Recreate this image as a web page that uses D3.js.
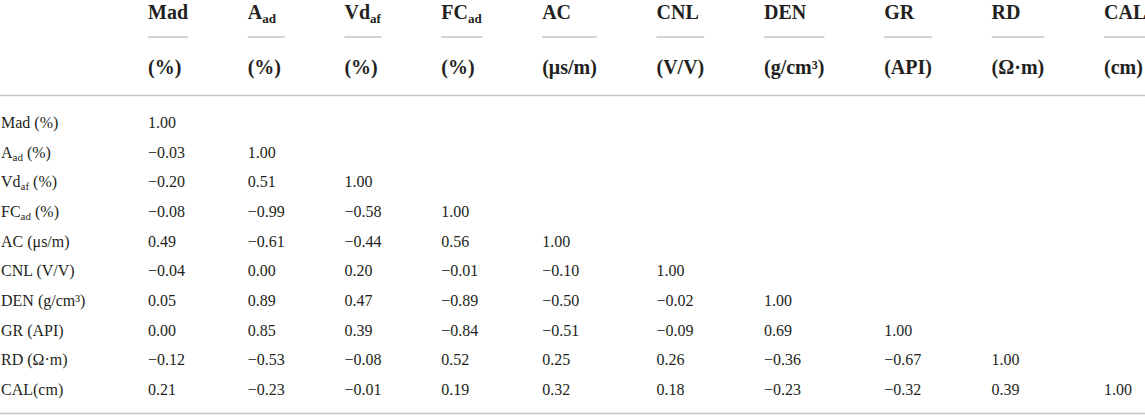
<!DOCTYPE html>
<html>
<head>
<meta charset="utf-8">
<script src="https://cdn.jsdelivr.net/npm/d3@7"></script>
<style>
  html, body { margin: 0; padding: 0; background: #fff; }
  svg { display: block; }
</style>
</head>
<body>
<svg id="chart" width="1145" height="415"></svg>
<script>
// ---- data ----
const varNames = ["Mad", "A", "Vd", "FC", "AC", "CNL", "DEN", "GR", "RD", "CAL"];
const varSubs  = ["",    "ad", "af", "ad", "",  "",    "",    "",   "",   ""];
const headerUnits = ["(%)", "(%)", "(%)", "(%)", "(μs/m)", "(V/V)", "(g/cm³)", "(API)", "(Ω·m)", "(cm)"];
const rowUnits    = [" (%)", " (%)", " (%)", " (%)", " (μs/m)", " (V/V)", " (g/cm³)", " (API)", " (Ω·m)", "(cm)"];
// lower-triangular correlation matrix (row i has i+1 values)
const corrMad  = [1.00];
const corrAad  = [-0.03, 1.00];
const corrVdaf = [-0.20, 0.51, 1.00];
const corrFCad = [-0.08, -0.99, -0.58, 1.00];
const corrAC   = [0.49, -0.61, -0.44, 0.56, 1.00];
const corrCNL  = [-0.04, 0.00, 0.20, -0.01, -0.10, 1.00];
const corrDEN  = [0.05, 0.89, 0.47, -0.89, -0.50, -0.02, 1.00];
const corrGR   = [0.00, 0.85, 0.39, -0.84, -0.51, -0.09, 0.69, 1.00];
const corrRD   = [-0.12, -0.53, -0.08, 0.52, 0.25, 0.26, -0.36, -0.67, 1.00];
const corrCAL  = [0.21, -0.23, -0.01, 0.19, 0.32, 0.18, -0.23, -0.32, 0.39, 1.00];
const corrRows = [corrMad, corrAad, corrVdaf, corrFCad, corrAC, corrCNL, corrDEN, corrGR, corrRD, corrCAL];

// ---- layout ----
const W = 1145, H = 415;
const FONT = "'Liberation Serif','Times New Roman',serif";
const TEXT = "#231f20";
const RULE = "#c4c4c4";
const firstColX = 148, lastColX = 1104;
const idx = d3.range(varNames.length);
const fmt = d3.format(".2f");

const svg = d3.select("#chart").attr("font-family", FONT).style("fill", TEXT);

// row positions
const y = d3.scalePoint().domain(idx).range([128, 395]);

// column groups (measured first, then positioned)
const cols = svg.selectAll("g.col").data(idx).join("g").attr("class", "col");

// header names (bold, with subscripts)
const hName = cols.append("text")
  .attr("y", 19)
  .attr("font-size", 20)
  .attr("font-weight", "bold");
hName.append("tspan").text(i => varNames[i]);
hName.filter(i => varSubs[i]).append("tspan")
  .attr("font-size", 13)
  .attr("dy", 4)
  .text(i => varSubs[i]);

// header units
cols.append("text")
  .attr("class", "unit")
  .attr("y", 74)
  .attr("font-size", 20)
  .attr("font-weight", "bold")
  .text(i => headerUnits[i]);

// values
cols.each(function(c) {
  const g = d3.select(this);
  const cells = corrRows.map((row, r) => ({ r, v: row[c] })).filter(d => d.v !== undefined);
  g.selectAll("text.val").data(cells).join("text")
    .attr("class", "val")
    .attr("y", d => y(d.r))
    .attr("font-size", 16)
    .text(d => fmt(d.v));
});

// measure column widths
const widths = [];
cols.each(function(c) {
  let w = 0;
  d3.select(this).selectAll("text").each(function() {
    w = Math.max(w, this.getComputedTextLength ? this.getBBox().width : 0);
  });
  widths[c] = w;
});
const innerSum = d3.sum(widths.slice(0, widths.length - 1));
const gap = (lastColX - firstColX - innerSum) / (widths.length - 1);
const colX = [];
let acc = firstColX;
idx.forEach(i => { colX[i] = acc; acc += widths[i] + gap; });

cols.attr("transform", i => `translate(${colX[i]},0)`);

// short rules under header names
cols.append("line")
  .attr("x1", 0)
  .attr("x2", i => widths[i])
  .attr("y1", 37).attr("y2", 37)
  .attr("stroke", RULE)
  .attr("stroke-width", 1.5);

// row labels
const labels = svg.selectAll("text.rowlab").data(idx).join("text")
  .attr("class", "rowlab")
  .attr("x", 1)
  .attr("y", i => y(i))
  .attr("font-size", 16);
labels.append("tspan").text(i => varNames[i]);
labels.filter(i => varSubs[i]).append("tspan")
  .attr("font-size", 11)
  .attr("dy", 3)
  .text(i => varSubs[i]);
labels.append("tspan")
  .attr("dy", i => varSubs[i] ? -3 : 0)
  .text(i => rowUnits[i]);

// horizontal rules
svg.append("line")
  .attr("x1", 0).attr("x2", W)
  .attr("y1", 95.5).attr("y2", 95.5)
  .attr("stroke", RULE).attr("stroke-width", 1.5);
svg.append("line")
  .attr("x1", 0).attr("x2", W)
  .attr("y1", 413.5).attr("y2", 413.5)
  .attr("stroke", RULE).attr("stroke-width", 1.5);
</script>
</body>
</html>
